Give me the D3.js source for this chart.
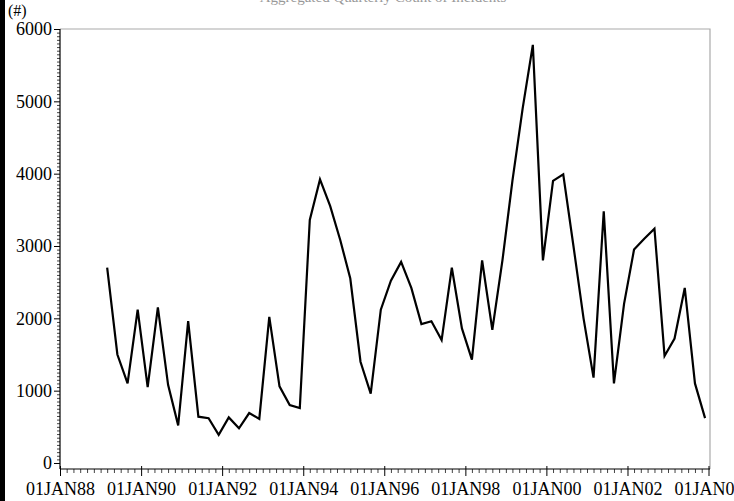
<!DOCTYPE html>
<html>
<head>
<meta charset="utf-8">
<script src="https://cdn.jsdelivr.net/npm/d3@7"></script>
<style>
  html, body { margin: 0; padding: 0; background: #fff; }
  svg { display: block; }
  text { font-family: "Liberation Serif", "Times New Roman", serif; }
</style>
</head>
<body>
<div id="chart"></div>
<script>
// ---- data (quarterly, Mar 1989 .. Dec 2003) ----
const startDate = "1989-03-01";
const values = [
  2700, 1500, 1100, 2120, 1050, 2150, 1080, 520, 1960, 640,
  620, 390, 630, 480, 690, 610, 2020, 1060, 800, 760,
  3360, 3920, 3550, 3080, 2550, 1400, 960, 2120, 2520, 2780,
  2420, 1920, 1960, 1700, 2700, 1860, 1430, 2800, 1840, 2800,
  3900, 4900, 5780, 2800, 3900, 3990, 3000, 2000, 1180, 3480,
  1100, 2200, 2950, 3100, 3240, 1480, 1720, 2420, 1100, 620
];
const yTicks = [0, 1000, 2000, 3000, 4000, 5000, 6000];
const xTickYears = [1988, 1990, 1992, 1994, 1996, 1998, 2000, 2002, 2004];
const monthNames = ["JAN","FEB","MAR","APR","MAY","JUN","JUL","AUG","SEP","OCT","NOV","DEC"];
const yUnitLabel = "(#)";
const titleText = "Aggregated Quarterly Count of Incidents";

// ---- build ----
(function () {
const W = 734, H = 501;
const mLeft = 60, mRight = 710, mTop = 29, mBottom = 469;

const t0 = new Date(startDate + "T00:00:00");
const dates = values.map((v, i) => d3.timeMonth.offset(t0, 3 * i));
const data = values.map((v, i) => ({ date: dates[i], value: v }));

const svg = d3.select("#chart").append("svg").attr("width", W).attr("height", H);

const x = d3.scaleTime()
  .domain([new Date(1988, 0, 1), new Date(2004, 0, 1)])
  .range([mLeft, 708.5]);
const y = d3.scaleLinear().domain([-83, 6000]).range([mBottom, mTop]);

// left black strip
svg.append("rect").attr("x", 0).attr("y", 0).attr("width", 5).attr("height", H).attr("fill", "#000");

// clipped title (only bottom visible)
svg.append("text").attr("x", 383).attr("y", 1.5).attr("text-anchor", "middle")
  .attr("font-size", 15).attr("fill", "#999").text(titleText);

// frame (top/right light gray)
svg.append("path")
  .attr("d", `M${mLeft},${mTop}H${mRight}V${mBottom}`)
  .attr("fill", "none").attr("stroke", "#aaa").attr("stroke-width", 1.2);

// line
const line = d3.line().x(d => x(d.date)).y(d => y(d.value));
svg.append("path").datum(data).attr("d", line)
  .attr("fill", "none").attr("stroke", "#000").attr("stroke-width", 2.2)
  .attr("stroke-linejoin", "miter");

// y axis minor ticks
const yMinor = d3.range(0, 6001, 50).filter(v => v % 1000 !== 0);
svg.append("g").attr("transform", `translate(${mLeft},0)`)
  .call(d3.axisLeft(y).tickValues(yMinor).tickSize(3).tickFormat(""))
  .call(g => g.select(".domain").remove())
  .selectAll("line").attr("stroke", "#444");
// y axis major
const yAxis = svg.append("g").attr("transform", `translate(${mLeft},0)`)
  .call(d3.axisLeft(y).tickValues(yTicks).tickSize(6).tickPadding(2).tickFormat(d3.format("d")));
yAxis.select(".domain").attr("d", `M0,${mTop}V${mBottom}`).attr("stroke", "#000").attr("stroke-width", 1.2);
yAxis.selectAll("text").attr("font-size", 18).attr("fill", "#000")
  .attr("font-family", '"Liberation Serif", serif');
yAxis.selectAll("line").attr("stroke", "#000");

// x axis minor ticks (every 2 months)
const xMinor = d3.timeMonth.every(2).range(new Date(1988, 0, 1), new Date(2004, 0, 2))
  .filter(d => !(d.getMonth() === 0 && d.getFullYear() % 2 === 0));
svg.append("g").attr("transform", `translate(0,${mBottom})`)
  .call(d3.axisBottom(x).tickValues(xMinor).tickSize(4).tickFormat(""))
  .call(g => g.select(".domain").remove())
  .selectAll("line").attr("stroke", "#444");
// x axis major
const fmt = d => "01" + monthNames[d.getMonth()] + String(d.getFullYear()).slice(2);
const xAxis = svg.append("g").attr("transform", `translate(0,${mBottom})`)
  .call(d3.axisBottom(x).tickValues(xTickYears.map(yy => new Date(yy, 0, 1)))
    .tickSize(7).tickPadding(6).tickFormat(fmt));
xAxis.select(".domain").attr("d", `M${mLeft},0H${mRight}`).attr("stroke", "#000").attr("stroke-width", 1.2);
xAxis.selectAll("line").attr("stroke", "#000").attr("y1", -3);
xAxis.selectAll("text").attr("font-size", 18).attr("fill", "#000")
  .attr("font-family", '"Liberation Serif", serif');

// unit label
svg.append("text").attr("x", 8).attr("y", 16).attr("font-size", 16).attr("fill", "#000").text(yUnitLabel);
})();
</script>
</body>
</html>
